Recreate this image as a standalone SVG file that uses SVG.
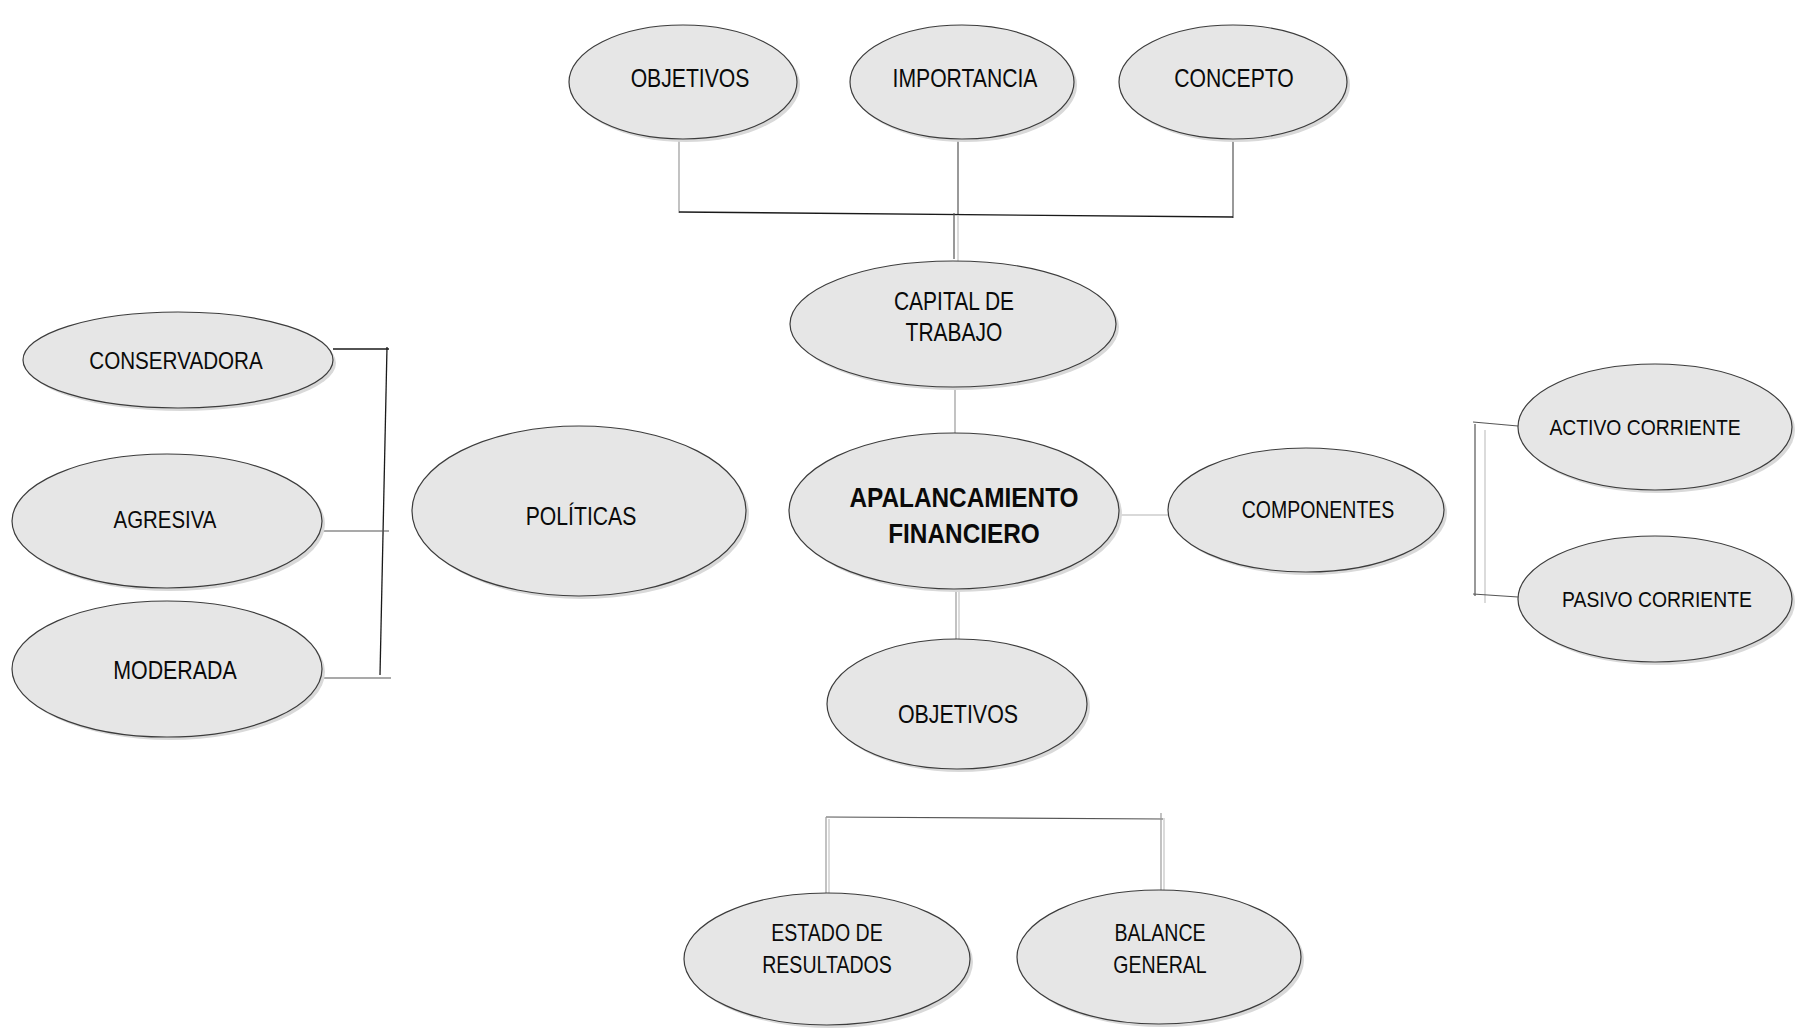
<svg xmlns="http://www.w3.org/2000/svg" width="1795" height="1028" viewBox="0 0 1795 1028">
  <style>
    .bg { fill: #ffffff; }
    .shadow { fill: #d9d9d9; }
    .node { fill: #e6e6e6; stroke: #3c3c3c; stroke-width: 1.2; }
    .lbl { font-family: "Liberation Sans", Arial, sans-serif; fill: #0a0a0a; text-anchor: middle; }
    .bold { font-weight: bold; }
    .wire { fill: none; stroke: #1a1a1a; stroke-width: 1.3; }
    .wire-mid { fill: none; stroke: #555555; stroke-width: 1.2; }
    .wire-soft { fill: none; stroke: #9a9a9a; stroke-width: 1.2; }
    .wire-faint { fill: none; stroke: #cccccc; stroke-width: 1.4; }
  </style>
  <rect class="bg" x="0" y="0" width="1795" height="1028"/>

  <g id="connectors">
    <!-- top fan: three ideas joined on one bar, down to CAPITAL DE TRABAJO -->
    <line class="wire-soft" x1="679" y1="140" x2="679" y2="213"/>
    <line class="wire-mid" x1="958" y1="140" x2="958" y2="215"/>
    <line class="wire-mid" x1="1233" y1="140" x2="1233" y2="218"/>
    <line class="wire" x1="679" y1="212" x2="1233" y2="217"/>
    <line class="wire-mid" x1="954" y1="213" x2="954" y2="259"/>
    <line class="wire-faint" x1="958" y1="215" x2="958" y2="262"/>
    <!-- spine -->
    <line class="wire-soft" x1="955" y1="387" x2="955" y2="433"/>
    <line class="wire-soft" x1="956" y1="590" x2="956" y2="639"/>
    <line class="wire-faint" x1="959" y1="590" x2="959" y2="639"/>
    <line class="wire-faint" x1="1118" y1="515" x2="1168" y2="515"/>
    <!-- policies bracket -->
    <line class="wire" x1="333" y1="349" x2="389" y2="349"/>
    <line class="wire" x1="387" y1="347" x2="380" y2="675"/>
    <line class="wire-mid" x1="321" y1="531" x2="389" y2="531"/>
    <line class="wire-mid" x1="322" y1="678" x2="391" y2="678"/>
    <!-- components bracket -->
    <line class="wire-mid" x1="1475" y1="424" x2="1475" y2="596"/>
    <line class="wire-faint" x1="1485" y1="430" x2="1485" y2="603"/>
    <line class="wire-mid" x1="1473" y1="422" x2="1518" y2="426"/>
    <line class="wire-mid" x1="1473" y1="594" x2="1518" y2="597"/>
    <!-- statements bar -->
    <line class="wire-mid" x1="826" y1="817" x2="1163" y2="819"/>
    <line class="wire-soft" x1="826" y1="817" x2="826" y2="893"/>
    <line class="wire-faint" x1="829" y1="819" x2="829" y2="893"/>
    <line class="wire-soft" x1="1161" y1="813" x2="1161" y2="892"/>
    <line class="wire-faint" x1="1164" y1="818" x2="1164" y2="892"/>
  </g>

  <g id="n-objetivos-top">
    <ellipse class="shadow" cx="686" cy="85" rx="114" ry="57"/>
    <ellipse class="node" cx="683" cy="82" rx="114" ry="57"/>
    <text class="lbl" font-size="25.5" transform="translate(690 86.5) scale(0.83 1)">OBJETIVOS</text>
  </g>

  <g id="n-importancia">
    <ellipse class="shadow" cx="965" cy="85" rx="112" ry="57"/>
    <ellipse class="node" cx="962" cy="82" rx="112" ry="57"/>
    <text class="lbl" font-size="25.5" transform="translate(965 86.5) scale(0.83 1)">IMPORTANCIA</text>
  </g>

  <g id="n-concepto">
    <ellipse class="shadow" cx="1236" cy="85" rx="114" ry="57"/>
    <ellipse class="node" cx="1233" cy="82" rx="114" ry="57"/>
    <text class="lbl" font-size="25.5" transform="translate(1234 86.5) scale(0.83 1)">CONCEPTO</text>
  </g>

  <g id="n-capital">
    <ellipse class="shadow" cx="956" cy="327" rx="163" ry="63"/>
    <ellipse class="node" cx="953" cy="324" rx="163" ry="63"/>
    <text class="lbl" font-size="25" transform="translate(954 310) scale(0.84 1)">CAPITAL DE</text>
    <text class="lbl" font-size="25" transform="translate(954 341) scale(0.84 1)">TRABAJO</text>
  </g>

  <g id="n-apalancamiento">
    <ellipse class="shadow" cx="957" cy="514" rx="165" ry="78"/>
    <ellipse class="node" cx="954" cy="511" rx="165" ry="78"/>
    <text class="lbl bold" font-size="28" transform="translate(964 507) scale(0.87 1)">APALANCAMIENTO</text>
    <text class="lbl bold" font-size="28" transform="translate(964 543) scale(0.87 1)">FINANCIERO</text>
  </g>

  <g id="n-componentes">
    <ellipse class="shadow" cx="1309" cy="513" rx="138" ry="62"/>
    <ellipse class="node" cx="1306" cy="510" rx="138" ry="62"/>
    <text class="lbl" font-size="23.5" transform="translate(1318 517.5) scale(0.83 1)">COMPONENTES</text>
  </g>

  <g id="n-objetivos-bottom">
    <ellipse class="shadow" cx="960" cy="707" rx="130" ry="65"/>
    <ellipse class="node" cx="957" cy="704" rx="130" ry="65"/>
    <text class="lbl" font-size="25.5" transform="translate(958 722.5) scale(0.84 1)">OBJETIVOS</text>
  </g>

  <g id="n-politicas">
    <ellipse class="shadow" cx="582" cy="514" rx="167" ry="85"/>
    <ellipse class="node" cx="579" cy="511" rx="167" ry="85"/>
    <text class="lbl" font-size="25.5" transform="translate(581 524.5) scale(0.83 1)">POLÍTICAS</text>
  </g>

  <g id="n-conservadora">
    <ellipse class="shadow" cx="181" cy="363" rx="155" ry="48"/>
    <ellipse class="node" cx="178" cy="360" rx="155" ry="48"/>
    <text class="lbl" font-size="24" transform="translate(176 368.5) scale(0.86 1)">CONSERVADORA</text>
  </g>

  <g id="n-agresiva">
    <ellipse class="shadow" cx="170" cy="524" rx="155" ry="67"/>
    <ellipse class="node" cx="167" cy="521" rx="155" ry="67"/>
    <text class="lbl" font-size="24" transform="translate(165 527.5) scale(0.85 1)">AGRESIVA</text>
  </g>

  <g id="n-moderada">
    <ellipse class="shadow" cx="170" cy="672" rx="155" ry="68"/>
    <ellipse class="node" cx="167" cy="669" rx="155" ry="68"/>
    <text class="lbl" font-size="25.5" transform="translate(175 678.5) scale(0.84 1)">MODERADA</text>
  </g>

  <g id="n-activo">
    <ellipse class="shadow" cx="1658" cy="430" rx="137" ry="63"/>
    <ellipse class="node" cx="1655" cy="427" rx="137" ry="63"/>
    <text class="lbl" font-size="22.5" transform="translate(1645 434.5) scale(0.86 1)">ACTIVO CORRIENTE</text>
  </g>

  <g id="n-pasivo">
    <ellipse class="shadow" cx="1658" cy="602" rx="137" ry="63"/>
    <ellipse class="node" cx="1655" cy="599" rx="137" ry="63"/>
    <text class="lbl" font-size="22.5" transform="translate(1657 606.5) scale(0.86 1)">PASIVO CORRIENTE</text>
  </g>

  <g id="n-estado">
    <ellipse class="shadow" cx="830" cy="962" rx="143" ry="66"/>
    <ellipse class="node" cx="827" cy="959" rx="143" ry="66"/>
    <text class="lbl" font-size="23" transform="translate(827 940.5) scale(0.85 1)">ESTADO DE</text>
    <text class="lbl" font-size="23" transform="translate(827 972.5) scale(0.85 1)">RESULTADOS</text>
  </g>

  <g id="n-balance">
    <ellipse class="shadow" cx="1162" cy="960" rx="142" ry="67"/>
    <ellipse class="node" cx="1159" cy="957" rx="142" ry="67"/>
    <text class="lbl" font-size="23" transform="translate(1160 940.5) scale(0.85 1)">BALANCE</text>
    <text class="lbl" font-size="23" transform="translate(1160 972.5) scale(0.85 1)">GENERAL</text>
  </g>
</svg>
